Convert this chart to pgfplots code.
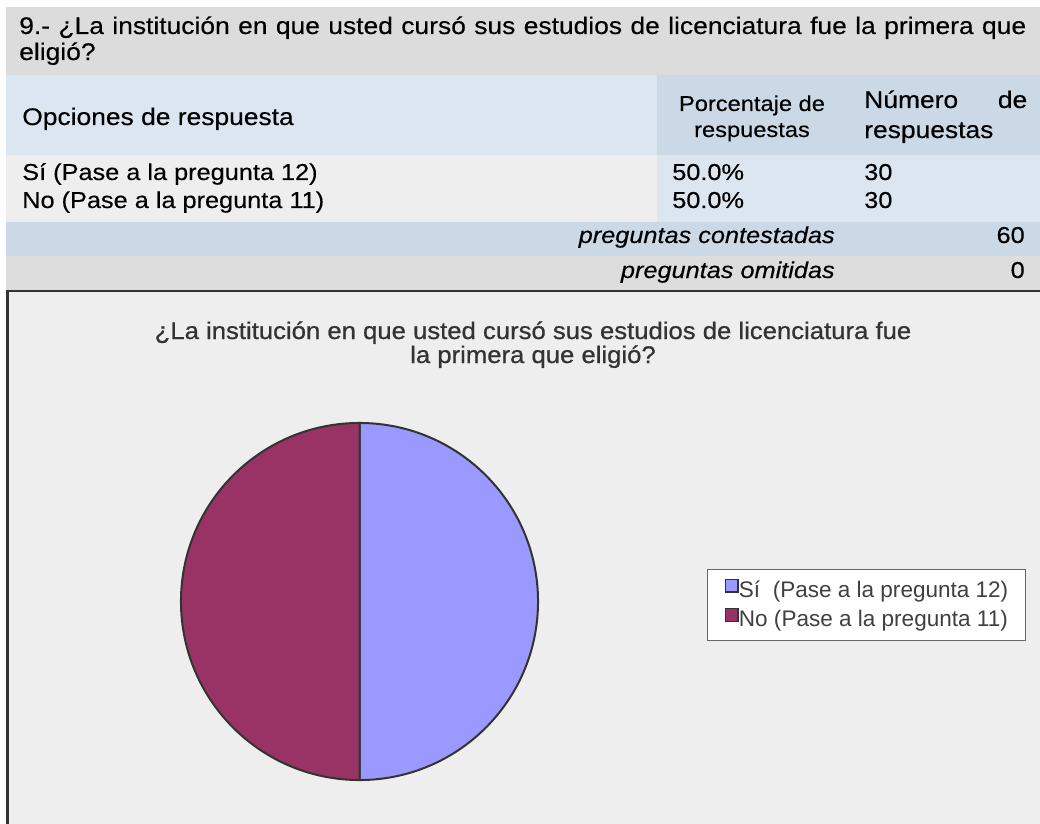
\documentclass[border=0pt]{standalone}
\usepackage{fontspec}
\setmainfont{Liberation Sans}
\newfontfamily\wide{Liberation Sans}[FakeStretch=1.1, FakeBold=0.3]
\newfontfamily\widebold{Liberation Sans}[FakeStretch=1.07, FakeBold=0.8]
\usepackage{pgfplots}
\usepackage{pgfplotstable}
\pgfplotsset{compat=1.18}

\definecolor{bandTitle}{RGB}{220,220,220}
\definecolor{bandHead}{RGB}{220,230,241}
\definecolor{bandDark}{RGB}{203,216,230}
\definecolor{bandRow}{RGB}{238,238,238}
\definecolor{bandOmit}{RGB}{221,221,221}
\definecolor{chartBg}{RGB}{238,238,238}
\definecolor{edge}{RGB}{51,51,51}
\definecolor{pieSi}{RGB}{153,153,255}
\definecolor{pieNo}{RGB}{153,51,102}
\definecolor{legText}{RGB}{64,64,64}

% respuestas: numero y porcentaje
\pgfplotstableread{
opcion n pct
Si 30 50.0
No 30 50.0
}\respuestas

\newcommand\fs[1]{\fontsize{#1}{#1}\selectfont}
\tikzset{t/.style={anchor=base west, inner sep=0pt}}

\begin{document}
\begin{tikzpicture}
\pgfplotstablegetelem{0}{n}\of\respuestas \let\nSi\pgfplotsretval
\pgfplotstablegetelem{1}{n}\of\respuestas \let\nNo\pgfplotsretval
\pgfmathsetmacro\total{\nSi+\nNo}
\pgfmathsetmacro\aSi{90-360*\nSi/\total}
\pgfmathsetmacro\aNo{\aSi-360*\nNo/\total}
\begin{axis}[
    x=0.75pt, y=0.75pt,
    xmin=0, xmax=1040, ymin=0, ymax=824,
    y dir=reverse,
    hide axis,
    clip=false,
    legend cell align=left,
    legend style={
        at={(axis description cs:0.6798,0.3095)}, anchor=north west,
        draw=black!60, line width=0.75pt, fill=white,
        font=\fontsize{16.9pt}{19.5pt}\selectfont, text=legText,
        inner xsep=13pt, inner ysep=7pt,
        row sep=4pt,
        nodes={inner sep=0pt, text height=12pt, text depth=3.5pt},
        /tikz/every even column/.append style={column sep=3.5pt},
    },
]
\coordinate (SW) at (0,824);
\coordinate (NE) at (1040,0);
\fill[white] (0,0) rectangle (1040,824);

% tabla
\fill[bandTitle] (6,7) rectangle (1040,75);
\fill[bandHead] (6,75) rectangle (657,155);
\fill[bandDark] (657,75) rectangle (1040,155);
\fill[bandRow] (6,155) rectangle (657,222);
\fill[bandHead] (657,155) rectangle (1040,222);
\fill[bandDark] (6,222) rectangle (1040,256);
\fill[bandOmit] (6,256) rectangle (1040,290);

\node[t, font=\wide\fs{18pt}] at (19,34) {\makebox[755.25pt][s]{9.- ¿La institución en que usted cursó sus estudios de licenciatura fue la primera que}};
\node[t, font=\wide\fs{18pt}] at (19,60) {eligió?};

\node[t, font=\wide\fs{18pt}] at (22,125) {Opciones de respuesta};
\node[anchor=base, inner sep=0pt, font=\wide\fs{16.125pt}] at (752,111) {Porcentaje de};
\node[anchor=base, inner sep=0pt, font=\wide\fs{16.125pt}] at (752,137) {respuestas};
\node[t, font=\wide\fs{18pt}] at (864,108) {\makebox[122.25pt][s]{Número de}};
\node[t, font=\wide\fs{18pt}] at (864,138) {respuestas};

\node[t, font=\wide\fs{17.25pt}] at (22,180) {Sí (Pase a la pregunta 12)};
\node[t, font=\wide\fs{17.25pt}] at (22,208) {No (Pase a la pregunta 11)};
\node[t, font=\wide\fs{17.25pt}] at (672,180) {50.0\%};
\node[t, font=\wide\fs{17.25pt}] at (672,208) {50.0\%};
\node[t, font=\wide\fs{17.25pt}] at (864,180) {30};
\node[t, font=\wide\fs{17.25pt}] at (864,208) {30};

\node[anchor=base east, inner sep=0pt, font=\wide\itshape\fs{17.25pt}] at (835,243) {preguntas contestadas};
\node[anchor=base east, inner sep=0pt, font=\wide\fs{17.25pt}] at (1025,243) {60};
\node[anchor=base east, inner sep=0pt, font=\wide\itshape\fs{17.25pt}] at (835,278) {preguntas omitidas};
\node[anchor=base east, inner sep=0pt, font=\wide\fs{17.25pt}] at (1025,278) {0};

% grafico
\fill[chartBg] (6,290) rectangle (1040,824);
\draw[edge, line width=1.6pt] (7.5,824) -- (7.5,291) -- (1040,291);
\node[anchor=base, inner sep=0pt, text=edge, font=\widebold\fs{18pt}] at (533,339) {¿La institución en que usted cursó sus estudios de licenciatura fue};
\node[anchor=base, inner sep=0pt, text=edge, font=\widebold\fs{18pt}] at (533,363) {la primera que eligió?};

\filldraw[fill=pieSi, draw=edge, line width=1.5pt, line join=round]
    (359.5,601.5) -- ++(90:133.9pt) arc[start angle=90, end angle=\aSi, radius=133.9pt] -- cycle;
\filldraw[fill=pieNo, draw=edge, line width=1.5pt, line join=round]
    (359.5,601.5) -- ++(\aSi:133.9pt) arc[start angle=\aSi, end angle=\aNo, radius=133.9pt] -- cycle;

\addlegendimage{legend image code/.code={\draw[fill=pieSi, draw=edge, line width=1.1pt] (0pt,0pt) rectangle (9.5pt,9.5pt);}}
\addlegendentry{Sí\ \ (Pase a la pregunta 12)}
\addlegendimage{legend image code/.code={\draw[fill=pieNo, draw=edge, line width=1.1pt] (0pt,0pt) rectangle (9.5pt,9.5pt);}}
\addlegendentry{No (Pase a la pregunta 11)}
\end{axis}
\pgfresetboundingbox
\useasboundingbox (SW) rectangle (NE);
\end{tikzpicture}
\end{document}
